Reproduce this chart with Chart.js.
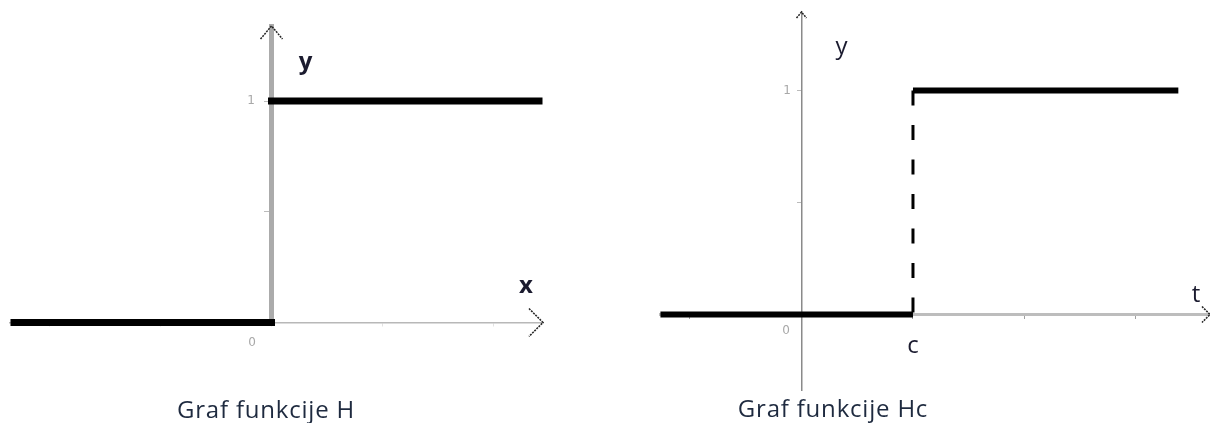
<!DOCTYPE html>
<html>
<head>
<meta charset="utf-8">
<script src="https://cdn.jsdelivr.net/npm/chart.js@4.4.1/dist/chart.umd.min.js"></script>
<style>
  body { margin: 0; background: #fff; }
  .wrap { position: absolute; top: 0; width: 605px; height: 423px; }
  .caption {
    position: absolute;
    font-family: "Open Sans", sans-serif;
    font-size: 24px;
    letter-spacing: 0.8px;
    line-height: 27px;
    color: #1e2a3f;
    white-space: nowrap;
    transform: translateX(-50%);
  }
</style>
</head>
<body>
<div class="wrap" style="left:0"><canvas id="chartH" width="605" height="423"></canvas></div>
<div class="wrap" style="left:605px"><canvas id="chartHc" width="605" height="423"></canvas></div>
<div class="caption" style="left:266px; top:395px">Graf funkcije H</div>
<div class="caption" style="left:833px; top:394px">Graf funkcije Hc</div>

<script>
// Heaviside H(x): two flat pieces
const hLowX = [-2.32, 0];
const hLowY = [0, 0];
const hHighX = [0, 2.41];
const hHighY = [1, 1];

// shifted Heaviside Hc(t), jump at t = c (c = 1 on the axis)
const hcLowX = [-1.265, 1];
const hcLowY = [0, 0];
const hcHighX = [1, 3.38];
const hcHighY = [1, 1];
const hcJumpX = [1, 1];
const hcJumpY = [1, 0];

// tick labels
const yTickLabel = "1";
const originLabel = "0";
const tTickLabels = { 1: "c" };

const toPoints = (xs, ys) => xs.map((x, i) => ({ x: x, y: ys[i] }));

// arrows, "0"/"1" labels and axis names, placed from the scales
const axisDecor = {
  id: "axisDecor",
  afterDraw(chart, args, opts) {
    const { ctx, chartArea } = chart;
    const sx = chart.scales.x, sy = chart.scales.y;
    const ox = sx.getPixelForValue(0);
    const oy = sy.getPixelForValue(0);
    const y1 = sy.getPixelForValue(1);
    const top = chartArea.top, right = chartArea.right;
    ctx.save();
    ctx.strokeStyle = "#222";
    ctx.lineWidth = 1.5;
    ctx.setLineDash([2, 1]);
    ctx.beginPath();
    ctx.moveTo(ox - opts.ay[0], top + opts.ay[1]);
    ctx.lineTo(ox, top);
    ctx.lineTo(ox + opts.ay[0], top + opts.ay[1]);
    ctx.moveTo(right - opts.ax[0], oy - opts.ax[1]);
    ctx.lineTo(right, oy);
    ctx.lineTo(right - opts.ax[0], oy + opts.ax[1]);
    ctx.stroke();
    ctx.setLineDash([]);

    ctx.textAlign = "center";
    ctx.textBaseline = "middle";
    ctx.fillStyle = "#a8a8a8";
    ctx.font = '12px "DejaVu Sans"';
    ctx.fillText(originLabel, ox + opts.zero[0], oy + opts.zero[1]);
    ctx.fillText(yTickLabel, ox + opts.one, y1);

    ctx.fillStyle = "#1b1b2f";
    ctx.font = opts.nameFont;
    ctx.fillText(opts.yName, ox + opts.yPos[0], top + opts.yPos[1]);
    ctx.fillText(opts.xName, right + opts.xPos[0], oy + opts.xPos[1]);
    ctx.restore();
  }
};

const common = {
  responsive: false,
  animation: false,
  events: [],
  plugins: { legend: { display: false }, tooltip: { enabled: false } }
};

const stepLine = (xs, ys, width, extra) => Object.assign({
  data: toPoints(xs, ys),
  showLine: true,
  pointRadius: 0,
  borderColor: "#000",
  backgroundColor: "#000",
  borderWidth: width
}, extra);

new Chart(document.getElementById("chartH"), {
  type: "scatter",
  data: {
    datasets: [
      stepLine(hLowX, hLowY, 7, { borderCapStyle: "square", clip: false }),
      stepLine(hHighX, hHighY, 7, { borderCapStyle: "square", clip: false })
    ]
  },
  options: {
    ...common,
    layout: { padding: { left: 10, right: 62, top: 26, bottom: 100.5 } },
    scales: {
      x: {
        type: "linear", min: -2.356, max: 2.446, position: { y: 0 },
        border: { color: "#b8b8b8", width: 1.5 },
        grid: { drawOnChartArea: false, tickLength: 3, color: "#e2e2e2" },
        ticks: { stepSize: 1, includeBounds: false, callback: () => "" }
      },
      y: {
        type: "linear", min: 0, max: 1.339, position: { x: 0 },
        border: { color: "#ababab", width: 5 },
        grid: { drawOnChartArea: false, tickLength: 5, color: "#bbbbbb" },
        ticks: { stepSize: 0.5, includeBounds: false, callback: () => "" }
      }
    },
    plugins: {
      ...common.plugins,
      axisDecor: {
        ay: [11, 13], ax: [14, 14], zero: [-19.5, 20.5], one: -20.5,
        nameFont: 'bold 24px "Open Sans"',
        yName: "y", yPos: [34, 36],
        xName: "x", xPos: [-17, -36]
      }
    }
  },
  plugins: [axisDecor]
});

new Chart(document.getElementById("chartHc"), {
  type: "scatter",
  data: {
    datasets: [
      stepLine(hcLowX, hcLowY, 6),
      stepLine(hcHighX, hcHighY, 6),
      stepLine(hcJumpX, hcJumpY, 3, { borderDash: [15, 19.5] })
    ]
  },
  options: {
    ...common,
    layout: { padding: { left: 55, right: 0, top: 12, bottom: 33 } },
    scales: {
      x: {
        type: "linear", min: -1.269, max: 3.664, position: { y: 0 },
        border: { color: "#bdbdbd", width: 3 },
        grid: { drawOnChartArea: false, tickLength: 3, color: "#a0a0a0" },
        ticks: {
          stepSize: 1, includeBounds: false, padding: 14, color: "#1b1b2f",
          font: { family: "Open Sans", size: 24 },
          callback: (v) => tTickLabels[v] || ""
        }
      },
      y: {
        type: "linear", min: -0.337, max: 1.35, position: { x: 0 },
        border: { color: "#8a8a8a", width: 1.5 },
        grid: { drawOnChartArea: false, tickLength: 4, color: "#bbbbbb" },
        ticks: { stepSize: 0.5, includeBounds: false, callback: () => "" }
      }
    },
    plugins: {
      ...common.plugins,
      axisDecor: {
        ay: [5, 6], ax: [8, 8], zero: [-15.5, 16], one: -14.5,
        nameFont: '24px "Open Sans"',
        yName: "y", yPos: [40, 35],
        xName: "t", xPos: [-14, -19]
      }
    }
  },
  plugins: [axisDecor]
});
</script>
</body>
</html>
